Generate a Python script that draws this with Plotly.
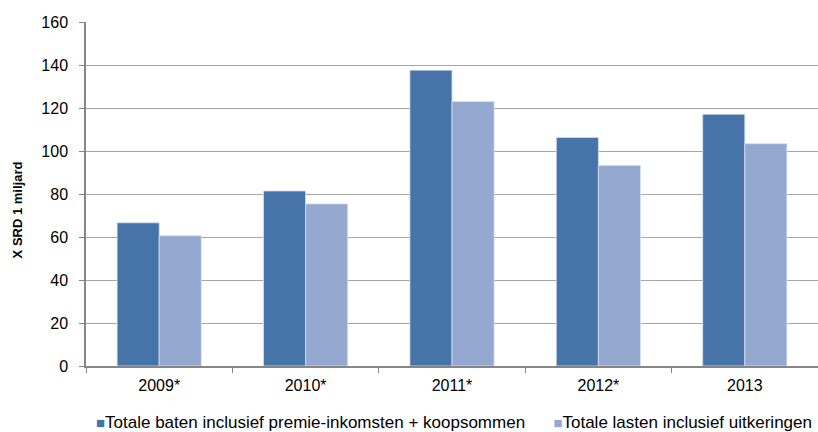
import plotly.graph_objects as go

categories = ["2009*", "2010*", "2011*", "2012*", "2013"]
baten = [66.6, 81.4, 137.6, 106.3, 117.1]
lasten = [60.6, 75.4, 123.0, 93.3, 103.4]
y_ticks = [0, 20, 40, 60, 80, 100, 120, 140, 160]
names = ["Totale baten inclusief premie-inkomsten + koopsommen",
         "Totale lasten inclusief uitkeringen"]
colors = ["#4673A8", "#95A9D0"]

fig = go.Figure()
fig.add_trace(go.Bar(x=categories, y=baten, name=names[0], showlegend=False,
                     marker=dict(color=colors[0], line=dict(color="#D6E0EE", width=0.8))))
fig.add_trace(go.Bar(x=categories, y=lasten, name=names[1], showlegend=False,
                     marker=dict(color=colors[1], line=dict(color="#D6E0EE", width=0.8))))

sq = "<span style='color:%s;font-size:15px'>■</span>"
legend_text = (sq % colors[0]) + names[0] + "&nbsp;" * 6 + (sq % colors[1]) + names[1]
fig.add_annotation(text=legend_text, xref="paper", yref="paper", x=0.503, y=-0.163,
                   xanchor="center", yanchor="middle", showarrow=False,
                   font=dict(size=17, color="#000000"))
fig.add_annotation(text="<b>X SRD 1 miljard</b>", xref="paper", yref="paper",
                   x=-0.093, y=0.455, xanchor="center", yanchor="middle",
                   textangle=-90, showarrow=False, font=dict(size=13, color="#000000"))

fig.update_layout(
    width=818, height=432,
    margin=dict(l=86, r=0, t=22, b=66, autoexpand=False),
    plot_bgcolor="white", paper_bgcolor="white",
    barmode="group", bargap=0.425, bargroupgap=0,
    font=dict(family="Liberation Sans, Arial, sans-serif", size=16, color="#000000"),
    showlegend=False,
    xaxis=dict(showline=True, linecolor="#868686", linewidth=1.5,
               ticks="outside", ticklen=5, tickcolor="#868686",
               tickson="boundaries", showgrid=False, tickfont=dict(size=16),
               ticklabelstandoff=4),
    yaxis=dict(range=[0, 160], tickvals=y_ticks, showline=True, linecolor="#868686",
               linewidth=1.5, ticks="outside", ticklen=5, tickcolor="#868686",
               showgrid=True, gridcolor="#A6A6A6", gridwidth=1.2, zeroline=False,
               tickfont=dict(size=16), ticklabelstandoff=8),
)

post = ("document.documentElement.style.overflow='hidden';"
        "document.body.style.overflow='hidden';"
        "document.body.style.margin='0px';"
        "var gd=document.getElementById('{plot_id}');"
        "gd.style.width='818px';gd.style.height='432px';"
        "Plotly.relayout(gd,{width:818,height:432});")
fig.write_html("out.html", post_script=post,
               config={"responsive": False, "displayModeBar": False})
